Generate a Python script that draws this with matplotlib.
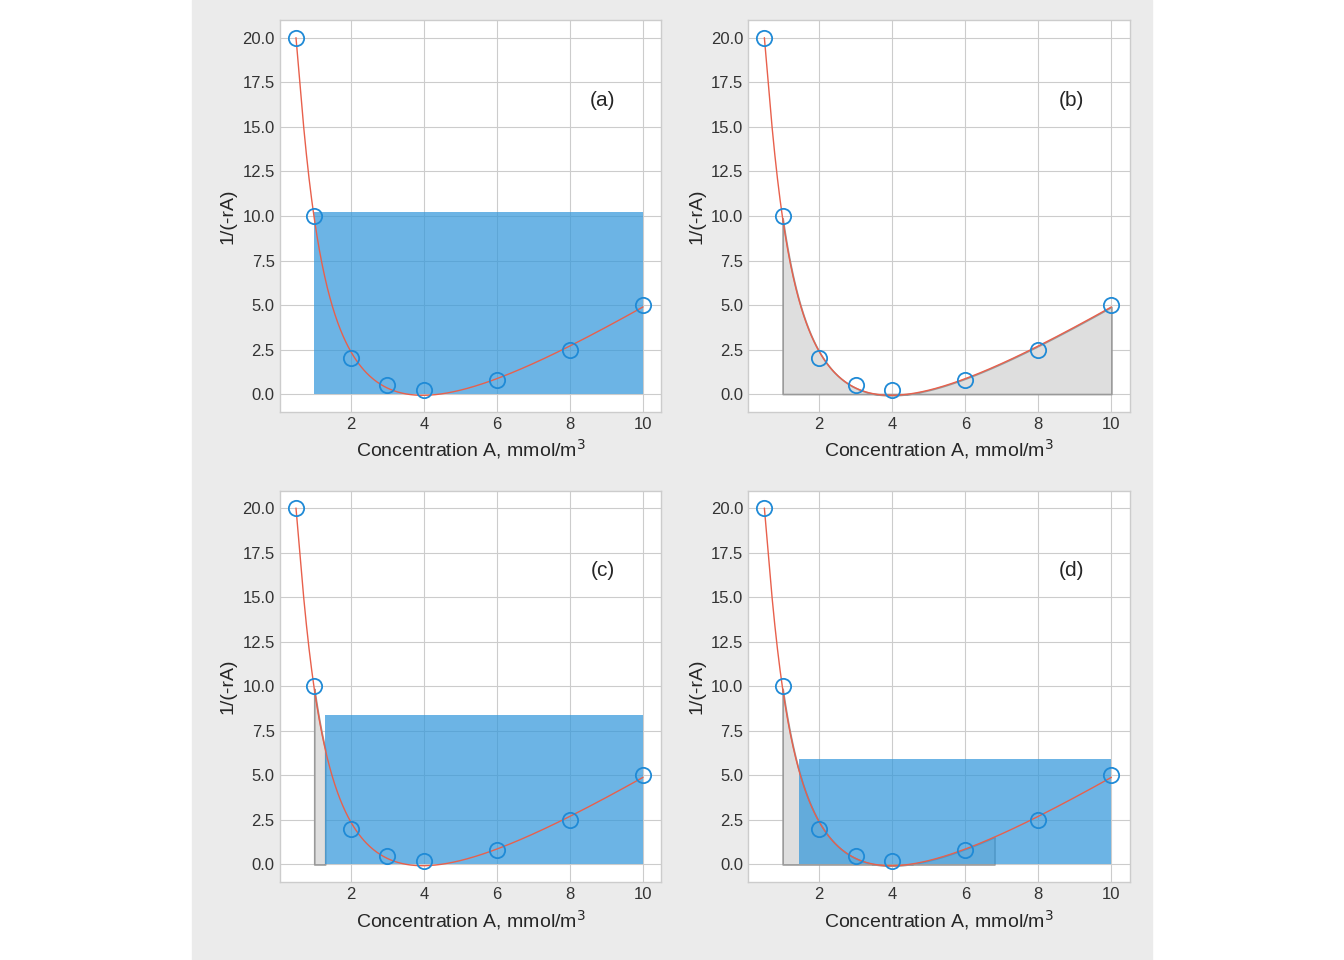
import matplotlib.pyplot as plt
import numpy as np
from matplotlib.patches import Rectangle

plt.style.use('seaborn-v0_8-whitegrid')

conc = [0.5, 1, 2, 3, 4, 6, 8, 10]
inv_rate = [20, 10, 2, 0.5, 0.2, 0.8, 2.5, 5]
labels = ['(a)', '(b)', '(c)', '(d)']
# (start, end, height) of the blue rectangle per panel
rects = [(1.0, 10.0, 10.2), None, (1.3, 10.0, 8.4), (1.45, 10.0, 5.9)]
# (start, end) of the grey area under the curve per panel
grey = [None, (1.0, 10.0), (1.0, 1.3), (1.0, 6.8)]

# least-squares fit for the smooth curve
x = np.array(conc, float)
y = np.array(inv_rate, float)
A = np.column_stack([1 / x**2, 1 / x, np.ones_like(x), x, x**2])
coef = np.linalg.lstsq(A, y, rcond=None)[0]


def fit(xx):
    return np.column_stack([1 / xx**2, 1 / xx, np.ones_like(xx), xx, xx**2]) @ coef


fig = plt.figure(figsize=(13.44, 9.6), dpi=100)
fig.patches.append(Rectangle((192 / 1344, 0), 960 / 1344, 1, transform=fig.transFigure,
                             color='#ebebeb', zorder=-10))
pos = [(0.208, 0.571), (0.5565, 0.571), (0.208, 0.081), (0.5565, 0.081)]
xc = np.linspace(0.5, 10, 400)
for i, (l, b) in enumerate(pos):
    ax = fig.add_axes([l, b, 0.284, 0.408])
    if grey[i]:
        xs = np.linspace(grey[i][0], grey[i][1], 200)
        ax.fill_between(xs, 0, fit(xs), facecolor='#dedede', edgecolor='#999999', lw=1.2, zorder=1)
    if rects[i]:
        s, e, h = rects[i]
        ax.add_patch(Rectangle((s, 0), e - s, h, facecolor='#3498db', alpha=0.72, lw=0, zorder=2))
    ax.plot(xc, fit(xc), color='#e8604c', lw=1, zorder=3)
    ax.plot(conc, inv_rate, 'o', ms=11, mfc='none', mec='#1f8ad6', mew=1.3, zorder=4)
    ax.set_xlim(0.05, 10.5)
    ax.set_ylim(-1, 21)
    ax.set_xticks([2, 4, 6, 8, 10])
    ax.set_yticks(np.arange(0, 20.1, 2.5))
    ax.tick_params(labelsize=12, colors='#333333')
    ax.set_xlabel('Concentration A, mmol/m$^3$', fontsize=14)
    ax.set_ylabel('1/(-rA)', fontsize=14)
    ax.text(8.9, 16.5, labels[i], fontsize=15, ha='center', va='center')
    for sp in ax.spines.values():
        sp.set_visible(True)
        sp.set_color('#cccccc')

fig.savefig('out.png', dpi=100)
